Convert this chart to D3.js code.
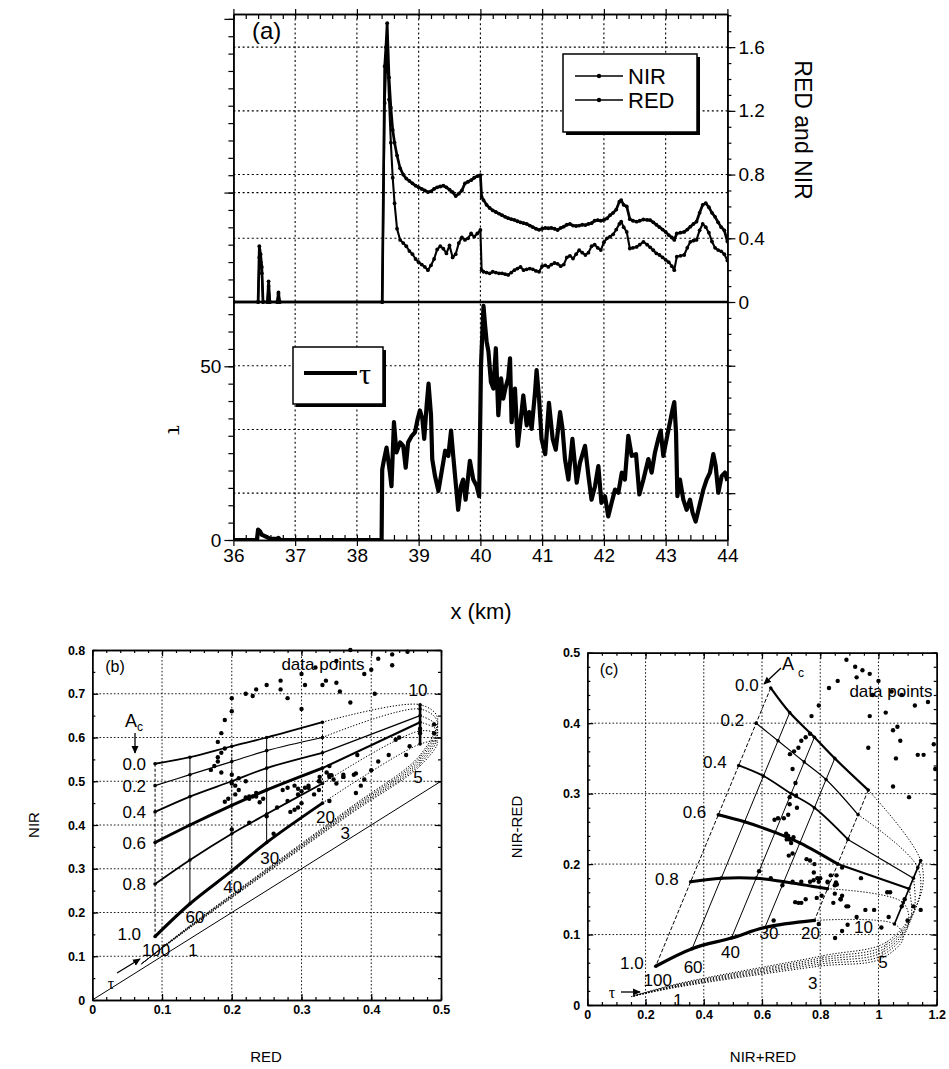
<!DOCTYPE html>
<html><head><meta charset="utf-8">
<script src="https://cdn.jsdelivr.net/npm/d3@7/dist/d3.min.js"></script>
<style>
html,body{margin:0;padding:0;background:#fff;}
svg{display:block;}
</style></head>
<body>
<svg id="fig" width="949" height="1069"></svg>
<script>
// ================= DATA =================
// Panel (a): RED and NIR along the flight track
const kmSeries = [
 36.00,36.40,36.42,36.44,36.46,36.48,36.55,36.57,36.59,36.71,
 36.73,36.75,38.41,38.45,38.47,38.49,38.52,38.55,38.58,38.61,
 38.65,38.70,38.75,38.80,38.85,38.90,38.95,39.00,39.05,39.10,
 39.15,39.20,39.25,39.30,39.35,39.40,39.45,39.50,39.55,39.60,
 39.65,39.70,39.75,39.80,39.85,39.90,39.95,40.00,40.02,40.05,
 40.10,40.15,40.20,40.25,40.30,40.35,40.40,40.45,40.50,40.55,
 40.60,40.65,40.70,40.75,40.80,40.85,40.90,40.95,41.00,41.05,
 41.10,41.15,41.20,41.25,41.30,41.35,41.40,41.45,41.50,41.55,
 41.60,41.65,41.70,41.75,41.80,41.85,41.90,41.95,42.00,42.05,
 42.10,42.15,42.20,42.25,42.28,42.32,42.37,42.42,42.47,42.53,
 42.58,42.64,42.70,42.75,42.80,42.85,42.90,42.95,43.00,43.05,
 43.10,43.14,43.18,43.24,43.30,43.35,43.40,43.45,43.50,43.55,
 43.60,43.65,43.70,43.75,43.80,43.85,43.90,43.95,44.00];
const nirSeries = [
 0,0,0.35,0.30,0.22,0,0,0.13,0,0,
 0.06,0,0,1.48,1.60,1.75,1.41,1.22,1.08,1.00,
 0.92,0.84,0.80,0.775,0.76,0.745,0.73,0.72,0.71,0.70,
 0.69,0.695,0.71,0.72,0.725,0.73,0.72,0.705,0.69,0.665,
 0.68,0.70,0.745,0.755,0.765,0.78,0.79,0.796,0.66,0.64,
 0.61,0.59,0.575,0.565,0.555,0.545,0.535,0.526,0.52,0.515,
 0.507,0.50,0.495,0.49,0.48,0.47,0.46,0.453,0.46,0.465,
 0.463,0.465,0.46,0.452,0.465,0.473,0.485,0.49,0.48,0.477,
 0.48,0.485,0.483,0.49,0.495,0.51,0.514,0.51,0.515,0.525,
 0.545,0.56,0.58,0.63,0.64,0.61,0.60,0.52,0.51,0.504,
 0.51,0.518,0.515,0.514,0.50,0.485,0.47,0.455,0.44,0.42,
 0.405,0.39,0.43,0.435,0.44,0.455,0.473,0.49,0.504,0.56,
 0.61,0.62,0.595,0.56,0.535,0.50,0.47,0.45,0.38];
const redSeries = [
 0,0,0.28,0.25,0.18,0,0,0.10,0,0,
 0.05,0,0,1.25,1.45,1.60,1.27,1.00,0.78,0.62,
 0.46,0.39,0.37,0.35,0.32,0.30,0.27,0.25,0.235,0.22,
 0.20,0.23,0.27,0.33,0.35,0.335,0.305,0.355,0.28,0.30,
 0.37,0.405,0.39,0.40,0.43,0.41,0.43,0.452,0.20,0.19,
 0.185,0.18,0.19,0.185,0.18,0.18,0.175,0.17,0.185,0.20,
 0.21,0.22,0.20,0.205,0.21,0.205,0.195,0.19,0.225,0.23,
 0.22,0.235,0.245,0.24,0.225,0.235,0.28,0.29,0.273,0.30,
 0.325,0.31,0.295,0.31,0.35,0.36,0.34,0.326,0.375,0.40,
 0.41,0.425,0.455,0.49,0.505,0.47,0.44,0.336,0.34,0.346,
 0.36,0.378,0.36,0.343,0.325,0.305,0.295,0.28,0.265,0.25,
 0.225,0.20,0.284,0.29,0.295,0.34,0.378,0.385,0.39,0.45,
 0.49,0.47,0.435,0.38,0.34,0.326,0.318,0.30,0.26];
// Panel (a): retrieved optical depth tau
const kmTau = [
 36.00,36.38,36.40,36.43,36.46,36.50,36.55,36.60,36.70,36.73,
 36.76,38.40,38.41,38.43,38.48,38.535,38.56,38.60,38.64,38.70,
 38.75,38.79,38.83,38.89,38.94,38.985,39.02,39.06,39.09,39.13,
 39.16,39.20,39.22,39.265,39.32,39.37,39.43,39.48,39.525,39.56,
 39.605,39.64,39.685,39.72,39.76,39.83,39.885,39.94,39.98,40.01,
 40.05,40.075,40.10,40.13,40.17,40.21,40.25,40.29,40.335,40.37,
 40.41,40.45,40.48,40.505,40.56,40.605,40.64,40.695,40.75,40.79,
 40.83,40.885,40.91,40.95,40.99,41.05,41.11,41.17,41.22,41.29,
 41.33,41.37,41.425,41.49,41.56,41.613,41.694,41.75,41.80,41.856,
 41.91,41.96,42.018,42.07,42.125,42.18,42.234,42.29,42.34,42.395,
 42.45,42.52,42.574,42.64,42.72,42.773,42.827,42.88,42.92,42.962,
 43.016,43.07,43.114,43.14,43.168,43.19,43.232,43.286,43.34,43.394,
 43.437,43.486,43.545,43.61,43.664,43.718,43.772,43.81,43.853,43.907,
 43.96,44.00];
const tauSeries = [
 0,0,3,2.5,1.5,1.2,0.8,0.3,0.3,0.6,
 0,0,20.3,22.3,26.6,19.4,15.5,33.9,25.2,28.1,
 27.1,20.8,28.1,30.0,31,34.9,37.3,34.9,29.1,38.8,
 45,35.9,23.3,18.4,14.1,19.4,25.7,24.2,31.5,24.2,
 15.5,8.7,15.5,17.4,11.6,22.8,17.4,15.5,12.6,50.4,
 67.4,62,57.2,54.3,45.5,43.6,55.2,35.9,46.5,40.7,
 44.1,46.5,52.3,33.9,43.6,27.1,32.5,41.6,33,36.8,
 32,42.6,48.9,40.7,29.1,24.7,39.5,29.1,26,36.8,
 32,23.3,17.4,29.1,16.5,22.3,27.1,18.4,11.6,15.5,
 21.3,10.7,12.6,6.8,10.7,14.5,13.6,19.4,17.4,30,
 24.2,24.7,13.1,17.4,23.3,19.4,25.2,29.1,31.5,24.2,
 29.1,33.9,37.8,39.7,31,12.6,17.4,11.6,8.7,11.6,
 7.8,5.3,9.7,14.5,17.4,19.4,24.7,21.3,13.6,18.4,
 19.4,17];
const kmTicks = [36,37,38,39,40,41,42,43,44];
const rnTickLabels = [0,0.4,0.8,1.2,1.6];
const tauTickLabels = [0,50];
const legendNames = ["NIR","RED"];

// Panels (b),(c): model grid  (RED, NIR) for cloud fraction Ac and optical depth tau
const acValues = [0.0,0.2,0.4,0.6,0.8,1.0];
const modelTau = [100,60,40,30,20,10,7,5,3,1,0];
const modelRed = [0.09,0.14,0.20,0.25,0.33,0.47,0.495,0.47,0.37,0.14,0.07];
const nirAc00 = [0.54,0.555,0.58,0.60,0.635,0.675,0.645,0.56,0.44,0.17,0.082];
const nirAc02 = [0.49,0.515,0.545,0.57,0.60,0.665,0.635,0.555,0.437,0.169,0.082];
const nirAc04 = [0.43,0.465,0.50,0.53,0.565,0.65,0.625,0.55,0.434,0.168,0.082];
const nirAc06 = [0.36,0.40,0.445,0.48,0.53,0.635,0.615,0.545,0.431,0.167,0.082];
const nirAc08 = [0.265,0.32,0.38,0.425,0.495,0.615,0.605,0.54,0.428,0.166,0.082];
const nirAc10 = [0.145,0.22,0.295,0.36,0.45,0.585,0.59,0.535,0.425,0.165,0.082];
const tauLabelValues = [100,60,40,30,20,10,5,3,1];
const oneToOne = [0,0.5];
const bTicksX = [0,0.1,0.2,0.3,0.4,0.5];
const bTicksY = [0,0.1,0.2,0.3,0.4,0.5,0.6,0.7,0.8];
const cTicksX = [0,0.2,0.4,0.6,0.8,1.0,1.2];
const cTicksY = [0,0.1,0.2,0.3,0.4,0.5];

// ================= DRAWING =================
const FONT = "'Liberation Sans', Arial, Helvetica, sans-serif";
const SERIF = "'Liberation Serif','Times New Roman',serif";
const svg = d3.select("#fig");
const defs = svg.append("defs");
defs.append("marker").attr("id","arr").attr("viewBox","0 0 10 10")
  .attr("refX",9).attr("refY",5).attr("markerWidth",6).attr("markerHeight",6)
  .attr("orient","auto").append("path").attr("d","M0,0.5 L10,5 L0,9.5 Z").attr("fill","#000");

function styleAxis(sel, size, weight, dw){
  sel.attr("font-family",FONT).attr("font-size",size).attr("font-weight",weight||"normal");
  sel.selectAll("path.domain").attr("stroke","#000").attr("stroke-width",dw||1.5);
  sel.selectAll(".tick line").attr("stroke","#000").attr("stroke-width",1.2);
  sel.selectAll(".tick text").attr("fill","#000");
  return sel;
}
const r1 = v => Math.round(v*10)/10;

// ---------- Panel (a) ----------
const A = {x0:233.4, x1:727.4, yTop:14, yBot:540};
const xA = d3.scaleLinear().domain([36,44]).range([A.x0,A.x1]);
const yTau = d3.scaleLinear().domain([0,151.4]).range([A.yBot,A.yTop]);
const yRN = d3.scaleLinear().domain([-1.494,1.808]).range([A.yBot,A.yTop]);
const gA = svg.append("g");
defs.append("clipPath").attr("id","clipA").append("rect")
  .attr("x",A.x0).attr("y",A.yTop).attr("width",A.x1-A.x0).attr("height",A.yBot-A.yTop);

const gridDash = "2,2.6";
gA.append("g").selectAll("line").data(kmTicks.slice(1,-1)).join("line")
  .attr("x1",d=>xA(d)).attr("x2",d=>xA(d)).attr("y1",A.yTop).attr("y2",A.yBot)
  .attr("stroke","#000").attr("stroke-width",1.1).attr("stroke-dasharray",gridDash);
const rnGrid = d3.range(-1.2,1.61,0.4).map(r1).filter(v=>v!==0);
gA.append("g").selectAll("line").data(rnGrid).join("line")
  .attr("x1",A.x0).attr("x2",A.x1).attr("y1",d=>yRN(d)).attr("y2",d=>yRN(d))
  .attr("stroke","#000").attr("stroke-width",1.1).attr("stroke-dasharray",gridDash);
gA.append("line").attr("x1",A.x0).attr("x2",A.x1).attr("y1",yTau(100)).attr("y2",yTau(100))
  .attr("stroke","#000").attr("stroke-width",1.1).attr("stroke-dasharray",gridDash);

// axes
styleAxis(gA.append("g").attr("transform",`translate(0,${A.yBot})`)
  .call(d3.axisBottom(xA).tickValues(d3.range(36,44.001,0.2)).tickSize(-5).tickSizeOuter(0).tickFormat("")),19);
styleAxis(gA.append("g").attr("transform",`translate(0,${A.yBot})`)
  .call(d3.axisBottom(xA).tickValues(kmTicks).tickSize(6).tickSizeOuter(0).tickPadding(3).tickFormat(d3.format("d"))),19);
styleAxis(gA.append("g").attr("transform",`translate(0,${A.yTop})`)
  .call(d3.axisTop(xA).tickValues(d3.range(36,44.001,0.2)).tickSize(-5).tickSizeOuter(0).tickFormat("")),19);
styleAxis(gA.append("g").attr("transform",`translate(0,${A.yTop})`)
  .call(d3.axisTop(xA).tickValues(kmTicks).tickSize(5).tickSizeOuter(0).tickFormat("")),19);
styleAxis(gA.append("g").attr("transform",`translate(${A.x0},0)`)
  .call(d3.axisLeft(yTau).tickValues(d3.range(0,151,5)).tickSize(5).tickSizeOuter(0).tickFormat("")),19);
styleAxis(gA.append("g").attr("transform",`translate(${A.x0},0)`)
  .call(d3.axisLeft(yTau).tickValues([0,50,100,150]).tickSize(9).tickSizeOuter(0).tickPadding(3)
    .tickFormat(d=>tauTickLabels.includes(d)?d:"")),19);
styleAxis(gA.append("g").attr("transform",`translate(${A.x1},0)`)
  .call(d3.axisRight(yRN).tickValues(d3.range(-1.4,1.81,0.1).map(r1)).tickSize(4).tickSizeOuter(0).tickFormat("")),19);
styleAxis(gA.append("g").attr("transform",`translate(${A.x1},0)`)
  .call(d3.axisRight(yRN).tickValues(d3.range(-1.2,1.61,0.4).map(r1)).tickSize(8).tickSizeOuter(0).tickPadding(3)
    .tickFormat(d=>rnTickLabels.includes(d)?(d===0?"0":d3.format(".1f")(d)):"")),19);

// zero line dividing the two parts
gA.append("line").attr("x1",A.x0).attr("x2",A.x1).attr("y1",yRN(0)).attr("y2",yRN(0))
  .attr("stroke","#000").attr("stroke-width",2.4);

// series
const plotA = gA.append("g").attr("clip-path","url(#clipA)");
const lineRN = d3.line().x(d=>xA(d.k)).y(d=>yRN(d.v));
const nirPts = kmSeries.map((k,i)=>({k, v:nirSeries[i]}));
const redPts = kmSeries.map((k,i)=>({k, v:redSeries[i]}));
plotA.append("path").attr("d",lineRN(redPts)).attr("fill","none").attr("stroke","#000").attr("stroke-width",2.1).attr("stroke-linejoin","round");
plotA.append("path").attr("d",lineRN(nirPts)).attr("fill","none").attr("stroke","#000").attr("stroke-width",2.7).attr("stroke-linejoin","round");
plotA.append("g").selectAll("circle").data(redPts.concat(nirPts)).join("circle")
  .attr("cx",d=>xA(d.k)).attr("cy",d=>yRN(d.v)).attr("r",1.9).attr("fill","#000");
const tauPts = kmTau.map((k,i)=>({k, v:tauSeries[i]}));
plotA.append("path").attr("d",d3.line().x(d=>xA(d.k)).y(d=>yTau(d.v))(tauPts))
  .attr("fill","none").attr("stroke","#000").attr("stroke-width",4.2).attr("stroke-linejoin","round");

// legend NIR/RED
const lg = gA.append("g");
lg.append("rect").attr("x",566).attr("y",57).attr("width",134).attr("height",78).attr("fill","#000");
lg.append("rect").attr("x",563).attr("y",54).attr("width",134).attr("height",78).attr("fill","#fff").attr("stroke","#000").attr("stroke-width",1.5);
legendNames.forEach((nm,i)=>{
  const yy = 76 + i*24;
  lg.append("line").attr("x1",575).attr("x2",623).attr("y1",yy).attr("y2",yy).attr("stroke","#000").attr("stroke-width",1.3);
  lg.append("circle").attr("cx",599).attr("cy",yy).attr("r",2.2).attr("fill","#000");
  lg.append("text").attr("x",628).attr("y",yy+7.5).attr("font-family",FONT).attr("font-size",22).text(nm);
});
// legend tau
const lt = gA.append("g");
lt.append("rect").attr("x",296).attr("y",350).attr("width",90).attr("height",57).attr("fill","#000");
lt.append("rect").attr("x",293).attr("y",347).attr("width",90).attr("height",57).attr("fill","#fff").attr("stroke","#000").attr("stroke-width",1.5);
lt.append("line").attr("x1",304).attr("x2",357).attr("y1",373).attr("y2",373).attr("stroke","#000").attr("stroke-width",4);
lt.append("text").attr("x",359).attr("y",384).attr("font-family",SERIF).attr("font-size",30).text("τ");

// texts panel (a)
gA.append("text").attr("x",252).attr("y",39).attr("font-family",FONT).attr("font-size",24).text("(a)");
gA.append("text").attr("transform","translate(795,130) rotate(90)").attr("text-anchor","middle")
  .attr("font-family",FONT).attr("font-size",23).text("RED and NIR");
gA.append("text").attr("transform","translate(168,430) rotate(90)").attr("text-anchor","middle")
  .attr("font-family",SERIF).attr("font-size",24).text("τ");
gA.append("text").attr("x",481).attr("y",619).attr("text-anchor","middle")
  .attr("font-family",FONT).attr("font-size",22).text("x (km)");

// ---------- helpers for panels (b),(c) ----------
const modelNir = [nirAc00,nirAc02,nirAc04,nirAc06,nirAc08,nirAc10];
const fmt = d => String(+d.toFixed(2));
function framePanel(g, x, y, xMaj, yMaj, xMin, yMin){
  const [x0,x1] = x.range(), [y0,y1] = y.range();
  g.append("g").selectAll("line").data(xMaj.slice(1,-1)).join("line")
    .attr("x1",d=>x(d)).attr("x2",d=>x(d)).attr("y1",y0).attr("y2",y1)
    .attr("stroke","#000").attr("stroke-width",0.9).attr("stroke-dasharray","1.6,2");
  g.append("g").selectAll("line").data(yMaj.slice(1,-1)).join("line")
    .attr("x1",x0).attr("x2",x1).attr("y1",d=>y(d)).attr("y2",d=>y(d))
    .attr("stroke","#000").attr("stroke-width",0.9).attr("stroke-dasharray","1.6,2");
  const ax = (gen,tr) => styleAxis(g.append("g").attr("transform",tr).call(gen),12.5,"bold",1.4);
  ax(d3.axisBottom(x).tickValues(xMin).tickSize(-3).tickSizeOuter(0).tickFormat(""),`translate(0,${y0})`);
  ax(d3.axisBottom(x).tickValues(xMaj).tickSize(-6).tickSizeOuter(0).tickPadding(5).tickFormat(fmt),`translate(0,${y0})`);
  ax(d3.axisTop(x).tickValues(xMin).tickSize(-3).tickSizeOuter(0).tickFormat(""),`translate(0,${y1})`);
  ax(d3.axisTop(x).tickValues(xMaj).tickSize(-6).tickSizeOuter(0).tickFormat(""),`translate(0,${y1})`);
  ax(d3.axisLeft(y).tickValues(yMin).tickSize(-3).tickSizeOuter(0).tickFormat(""),`translate(${x0},0)`);
  ax(d3.axisLeft(y).tickValues(yMaj).tickSize(-6).tickSizeOuter(0).tickPadding(7).tickFormat(fmt),`translate(${x0},0)`);
  ax(d3.axisRight(y).tickValues(yMin).tickSize(-3).tickSizeOuter(0).tickFormat(""),`translate(${x1},0)`);
  ax(d3.axisRight(y).tickValues(yMaj).tickSize(-6).tickSizeOuter(0).tickFormat(""),`translate(${x1},0)`);
}
function drawModel(g, x, y, tf, st){
  const node = (ai,ti) => tf([modelRed[ti], modelNir[ai][ti]]);
  const curve = d3.line().x(d=>x(d[0])).y(d=>y(d[1])).curve(d3.curveCatmullRom.alpha(0.5));
  const straight = d3.line().x(d=>x(d[0])).y(d=>y(d[1]));
  acValues.forEach((ac,ai)=>{
    const pts = modelTau.map((t,ti)=>node(ai,ti));
    const se = st.solidEnd[ai];
    g.append("path").attr("d",curve(pts.slice(0,5))).attr("fill","none").attr("stroke","#000")
      .attr("stroke-width",st.acW[ai]);
    if (se>4) g.append("path").attr("d",curve(pts.slice(4,se+1))).attr("fill","none").attr("stroke","#000")
      .attr("stroke-width",Math.max(1.2,st.acW[ai]*0.7));
    g.append("path").attr("d",curve(pts.slice(se))).attr("fill","none").attr("stroke","#000")
      .attr("stroke-width",1).attr("stroke-dasharray","1.3,1.7");
  });
  modelTau.forEach((t,ti)=>{
    if (t===7 || t===0) return;
    const pts = acValues.map((ac,ai)=>node(ai,ti));
    const major = ti<=5;
    g.append("path").attr("d",straight(pts)).attr("fill","none").attr("stroke","#000")
      .attr("stroke-width", major? st.tauW[ti] : 0.8)
      .attr("stroke-dasharray", major? st.tauDash[ti] : "1,1.5");
    if (major) g.append("g").selectAll("circle").data(pts).join("circle")
      .attr("cx",d=>x(d[0])).attr("cy",d=>y(d[1])).attr("r",1.8).attr("fill","#000");
  });
}
function txt(g, xx, yy, s, size, anchor, extra){
  const t = g.append("text").attr("x",xx).attr("y",yy).attr("font-family",FONT)
    .attr("font-size",size).attr("text-anchor",anchor||"middle").text(s);
  if (extra) extra(t);
  return t;
}
function arrow(g, xa, ya, xb, yb){
  g.append("line").attr("x1",xa).attr("y1",ya).attr("x2",xb).attr("y2",yb)
    .attr("stroke","#000").attr("stroke-width",1.3).attr("marker-end","url(#arr)");
}
const dataPairs = kmSeries.map((k,i)=>({k, red:redSeries[i], nir:nirSeries[i]})).filter(p=>p.k>=38.6);

// ---------- Panel (b) ----------
const xB = d3.scaleLinear().domain([0,0.5]).range([92.3,441]);
const yB = d3.scaleLinear().domain([0,0.8]).range([1000,650]);
const gB = svg.append("g");
framePanel(gB, xB, yB, bTicksX, bTicksY, d3.range(0,0.501,0.02), d3.range(0,0.801,0.05));
gB.append("line").attr("x1",xB(oneToOne[0])).attr("y1",yB(oneToOne[0])).attr("x2",xB(oneToOne[1])).attr("y2",yB(oneToOne[1]))
  .attr("stroke","#000").attr("stroke-width",1);
drawModel(gB, xB, yB, p=>p, {
  acW:[1.8,1.2,1.8,3.0,1.8,3.0],
  solidEnd:[4,4,5,5,4,4],
  tauW:[1,1,1,1,1,2.6],
  tauDash:["3,2",null,"2,2",null,"2,2",null]});
gB.append("g").selectAll("circle").data(dataPairs.filter(p=>p.red<=0.5&&p.nir<=0.8)).join("circle")
  .attr("cx",d=>xB(d.red)).attr("cy",d=>yB(d.nir)).attr("r",2.2).attr("fill","#000");
// labels (b)
acValues.forEach((ac,ai)=>{
  const dx = ai===5 ? -14 : -9, dy = ai===5 ? 3 : 6;
  txt(gB, xB(modelRed[0])+dx, yB(modelNir[ai][0])+dy, ac.toFixed(1), 17, "end");
});
const bTauOff = {100:[1,19],60:[5,19],40:[1,22],30:[3,21],20:[3,20],5:[-2,17],3:[-5,25],1:[3,28]};
tauLabelValues.forEach(t=>{
  const ti = modelTau.indexOf(t);
  if (t===10){ txt(gB, xB(modelRed[ti])-2, yB(modelNir[0][ti])-9, String(t), 17); return; }
  const o = bTauOff[t];
  txt(gB, xB(modelRed[ti])+o[0], yB(modelNir[5][ti])+o[1], String(t), 17);
});
txt(gB, 115, 672, "(b)", 16);
txt(gB, 323, 670, "data points", 17);
txt(gB, 131, 727, "A", 18);
txt(gB, 140, 731, "c", 12);
arrow(gB, 135, 733, 135, 753);
txt(gB, 111, 989, "τ", 16, "middle", t=>t.attr("font-family",SERIF));
arrow(gB, 117, 973, 140, 959);
txt(gB, 34, 825, "NIR", 15, "middle", t=>t.attr("transform","rotate(-90,34,825)").attr("y",830));
txt(gB, 266, 1062, "RED", 15);

// ---------- Panel (c) ----------
const xC = d3.scaleLinear().domain([0,1.2]).range([587.3,936.7]);
const yC = d3.scaleLinear().domain([0,0.5]).range([1005,652.7]);
const gC = svg.append("g");
framePanel(gC, xC, yC, cTicksX, cTicksY, d3.range(0,1.201,0.05), d3.range(0,0.501,0.02));
const toC = p => [p[0]+p[1], p[1]-p[0]];
drawModel(gC, xC, yC, toC, {
  acW:[2.2,1.2,1.8,3.0,3.0,3.2],
  solidEnd:[4,4,5,5,4,4],
  tauW:[1,1,1,1,1,1.7],
  tauDash:["4,2",null,null,null,"4,2",null]});
gC.append("g").selectAll("circle")
  .data(dataPairs.map(p=>({s:p.nir+p.red, d:p.nir-p.red})).filter(p=>p.s<=1.2&&p.d>=0&&p.d<=0.5)).join("circle")
  .attr("cx",d=>xC(d.s)).attr("cy",d=>yC(d.d)).attr("r",2.2).attr("fill","#000");
acValues.forEach((ac,ai)=>{
  const p = toC([modelRed[0], modelNir[ai][0]]);
  txt(gC, xC(p[0])-12, yC(p[1])+3, ac.toFixed(1), 17, "end");
});
const cTauOff = {100:[2,20],60:[1,24],40:[-1,20],30:[4,12],20:[-4,19],10:[-31,9],5:[3,9],3:[-6,23],1:[2,19]};
tauLabelValues.forEach(t=>{
  const ti = modelTau.indexOf(t);
  const p = toC([modelRed[ti], modelNir[5][ti]]);
  const o = cTauOff[t];
  txt(gC, xC(p[0])+o[0], yC(p[1])+o[1], String(t), 17);
});
txt(gC, 609, 675, "(c)", 16);
txt(gC, 891, 697, "data points", 17);
txt(gC, 788, 670, "A", 18);
txt(gC, 801, 677, "c", 12);
arrow(gC, 781, 668, 764, 684);
txt(gC, 612, 998, "τ", 16, "middle", t=>t.attr("font-family",SERIF));
arrow(gC, 621, 992, 640, 992);
txt(gC, 517, 827, "NIR-RED", 15, "middle", t=>t.attr("transform","rotate(-90,517,827)").attr("y",832));
txt(gC, 763, 1062, "NIR+RED", 15);
</script>
</body></html>
